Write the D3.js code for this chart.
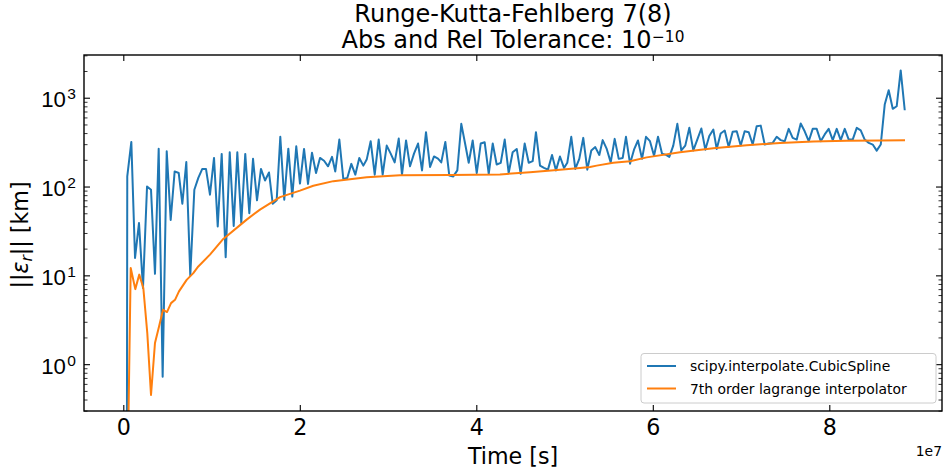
<!DOCTYPE html>
<html><head><meta charset="utf-8">
<script src="https://cdn.jsdelivr.net/npm/d3@7"></script>
<style>body{margin:0;background:#fff}svg{display:block;font-family:'DejaVu Sans',sans-serif}</style>
</head><body><svg id="c" width="945" height="472"></svg>
<script>
// time in units of 1e7 s
const timeBlue = [0.040,0.045,0.091,0.133,0.178,0.223,0.269,0.314,0.359,0.401,0.446,0.492,0.537,0.582,0.628,0.669,0.714,0.759,0.805,0.850,
0.895,0.937,0.982,1.028,1.070,1.115,1.160,1.206,1.251,1.292,1.337,1.382,1.428,1.470,1.515,1.560,1.606,1.651,1.693,1.738,
1.779,1.824,1.870,1.915,1.960,2.002,2.048,2.093,2.138,2.184,2.229,2.275,2.320,2.365,2.402,2.448,2.493,2.538,2.584,2.629,
2.674,2.720,2.758,2.803,2.849,2.894,2.939,2.985,3.030,3.075,3.121,3.158,3.204,3.249,3.294,3.340,3.385,3.430,3.476,3.521,
3.566,3.603,3.649,3.694,3.739,3.785,3.830,3.875,3.914,3.959,4.005,4.050,4.095,4.141,4.186,4.231,4.277,4.322,4.367,4.412,
4.458,4.503,4.548,4.594,4.639,4.676,4.722,4.767,4.812,4.858,4.903,4.948,4.994,5.031,5.076,5.122,5.167,5.212,5.258,5.303,
5.348,5.394,5.432,5.478,5.523,5.568,5.614,5.659,5.696,5.742,5.787,5.832,5.878,5.923,5.968,6.014,6.059,6.104,6.150,6.187,
6.232,6.278,6.323,6.368,6.414,6.459,6.504,6.550,6.595,6.640,6.686,6.724,6.769,6.815,6.860,6.905,6.951,6.996,7.041,7.087,
7.132,7.177,7.223,7.268,7.313,7.359,7.404,7.449,7.495,7.540,7.585,7.631,7.676,7.721,7.767,7.812,7.857,7.903,7.948,7.993,
8.039,8.084,8.129,8.175,8.220,8.265,8.311,8.356,8.401,8.447,8.492,8.537,8.583,8.628,8.673,8.719,8.764,8.809,8.855];
const errBlue = [0.02,130,318,15.7,38.9,7.2,100,92,10.4,267,0.72,249,42,148,142,64,189,10,92,125,
158,158,81,210,35.6,233,16,243,36,243,39,233,50,205,70,158,117,144,64,70,
363,71,267,77,284,108,265,107,240,142,210,195,169,216,148,338,122,125,180,136,
210,172,201,324,136,338,136,289,235,187,347,136,330,169,235,305,152,409,166,218,
206,187,318,133,130,152,508,297,185,330,142,305,315,139,305,177,185,338,142,243,
265,139,305,185,193,409,172,162,155,227,152,218,162,185,363,158,205,353,155,255,
278,227,333,265,187,344,205,210,363,181,260,330,205,363,324,222,363,235,227,216,
289,508,255,289,458,255,338,450,260,370,438,265,395,427,278,413,420,289,420,409,
297,477,485,297,305,310,363,333,324,446,353,338,512,419,324,446,446,324,386,446,
333,446,333,446,338,338,458,429,338,310,297,254,297,838,1216,750,802,2028,723];
const timeOrange = [0.042,0.084,0.136,0.181,0.227,0.272,0.314,0.359,0.405,0.450,0.495,0.541,0.586,0.631,0.718,0.793,0.850,0.982,1.133,1.398,
1.549,1.776,2.002,2.153,2.380,2.758,3.135,3.702,4.268,4.608,4.948,5.175,5.289,5.364,5.552,5.742,5.931,6.308,6.686,7.064,
7.441,7.819,8.197,8.575,8.858];
const errOrange = [0.02,12.1,7.0,10.2,7.2,2.23,0.45,1.73,2.65,4.1,3.86,4.87,5.3,6.6,8.9,10.6,12.6,17.1,25.7,42.4,
55,76,90,102,115,127,134,135,137,145,155,162,166,172,185,193,213,243,270,292,
310,321,327,330,333];
const xTicks = [0,2,4,6,8];
const yTicks = [1,10,100,1000];
const yMinorTicks = [0.3,0.4,0.5,0.6,0.7,0.8,0.9,2,3,4,5,6,7,8,9,20,30,40,50,60,70,80,90,200,300,400,500,600,700,800,900,2000,3000];
const seriesNames = ["scipy.interpolate.CubicSpline","7th order lagrange interpolator"];
const seriesColors = ["#1f77b4","#ff7f0e"];

const svg = d3.select("#c");
const L=84, R=942, T=55, B=411;
const x = d3.scaleLinear().domain([-0.4453, 9.277]).range([L, R]);
const y = d3.scaleLog().domain([0.297, 3027]).range([B, T]);

svg.append("defs").append("clipPath").attr("id","clip")
  .append("rect").attr("x",L).attr("y",T).attr("width",R-L).attr("height",B-T);

const line = d3.line().x(d=>x(d[0])).y(d=>y(Math.max(d[1],1e-6)));
const blue = timeBlue.map((t,i)=>[t, errBlue[i]]);
const orange = timeOrange.map((t,i)=>[t, errOrange[i]]);
const g = svg.append("g").attr("clip-path","url(#clip)");
g.append("path").datum(blue).attr("d",line).attr("fill","none").attr("stroke",seriesColors[0]).attr("stroke-width",2).attr("stroke-linejoin","round");
g.append("path").datum(orange).attr("d",line).attr("fill","none").attr("stroke",seriesColors[1]).attr("stroke-width",2).attr("stroke-linejoin","round");

// axes
const fs = 22.2;
const ax = svg.append("g").attr("transform",`translate(0,${B})`)
  .call(d3.axisBottom(x).tickValues(xTicks).tickSize(-6).tickPadding(8).tickFormat(d3.format("d")));
ax.select(".domain").remove();
ax.selectAll("text").attr("font-size",fs).attr("font-family","DejaVu Sans").attr("fill","#000").attr("dy","0.72em");
ax.selectAll("line").attr("stroke","#000").attr("stroke-width",1.1);

const axTop = svg.append("g").attr("transform",`translate(0,${T})`)
  .call(d3.axisTop(x).tickValues(xTicks).tickSize(-6).tickFormat(""));
axTop.select(".domain").remove();
axTop.selectAll("line").attr("stroke","#000").attr("stroke-width",1.1);

const ay = svg.append("g").attr("transform",`translate(${L},0)`)
  .call(d3.axisLeft(y).tickValues(yTicks).tickSize(-6).tickPadding(7).tickFormat(""));
ay.select(".domain").remove();
ay.selectAll("line").attr("stroke","#000").attr("stroke-width",1.1);
ay.selectAll(".tick").each(function(d){
  const t = d3.select(this).append("text").attr("x",-8).attr("y",9)
    .attr("text-anchor","end").attr("font-size",fs).attr("fill","#000");
  t.append("tspan").text("10");
  t.append("tspan").attr("font-size",fs*0.7).attr("dx",1.5).attr("dy",-7.8).text(Math.round(Math.log10(d)));
});
const ayMinor = svg.append("g").attr("transform",`translate(${L},0)`)
  .call(d3.axisLeft(y).tickValues(yMinorTicks).tickSize(-3.5).tickFormat(""));
ayMinor.select(".domain").remove();
ayMinor.selectAll("line").attr("stroke","#000").attr("stroke-width",0.8);

const ayR = svg.append("g").attr("transform",`translate(${R},0)`)
  .call(d3.axisRight(y).tickValues(yTicks).tickSize(-6).tickFormat(""));
ayR.select(".domain").remove();
ayR.selectAll("line").attr("stroke","#000").attr("stroke-width",1.1);
const ayRMinor = svg.append("g").attr("transform",`translate(${R},0)`)
  .call(d3.axisRight(y).tickValues(yMinorTicks).tickSize(-3.5).tickFormat(""));
ayRMinor.select(".domain").remove();
ayRMinor.selectAll("line").attr("stroke","#000").attr("stroke-width",0.8);

// frame
svg.append("rect").attr("x",L).attr("y",T).attr("width",R-L).attr("height",B-T)
  .attr("fill","none").attr("stroke","#000").attr("stroke-width",1.4);

// offset text
svg.append("text").attr("x",R).attr("y",456).attr("text-anchor","end").attr("font-size",13.9).text("1e7");

// axis labels
svg.append("text").attr("x",(L+R)/2).attr("y",464).attr("text-anchor","middle").attr("font-size",fs).text("Time [s]");
const yl = svg.append("text").attr("transform",`translate(28,${(T+B)/2+2}) rotate(-90)`).attr("text-anchor","middle").attr("font-size",fs);
yl.append("tspan").text("||");
yl.append("tspan").attr("font-style","italic").text("ε");
yl.append("tspan").attr("font-style","italic").attr("font-size",fs*0.7).attr("dy","0.25em").text("r");
yl.append("tspan").attr("dy","-0.18em").text("|| [km]");

// title
const tfs = 24;
svg.append("text").attr("x",(L+R)/2).attr("y",22.4).attr("text-anchor","middle").attr("font-size",tfs).text("Runge-Kutta-Fehlberg 7(8)");
const t2 = svg.append("text").attr("x",(L+R)/2).attr("y",47.5).attr("text-anchor","middle").attr("font-size",tfs);
t2.append("tspan").text("Abs and Rel Tolerance: 10");
t2.append("tspan").attr("font-size",tfs*0.64).attr("dx",0.5).attr("dy",-5.3).text("−10");

// legend
const lg = svg.append("g");
lg.append("rect").attr("x",641).attr("y",353.5).attr("width",295).attr("height",49.5).attr("rx",3)
  .attr("fill","#fff").attr("fill-opacity",0.8).attr("stroke","#cccccc").attr("stroke-width",1);
seriesNames.forEach((n,i)=>{
  const yy = 366 + i*22.5;
  lg.append("line").attr("x1",647).attr("x2",676).attr("y1",yy).attr("y2",yy).attr("stroke",seriesColors[i]).attr("stroke-width",2);
  lg.append("text").attr("x",690).attr("y",yy+5).attr("font-size",13.9).text(n);
});
</script></body></html>
